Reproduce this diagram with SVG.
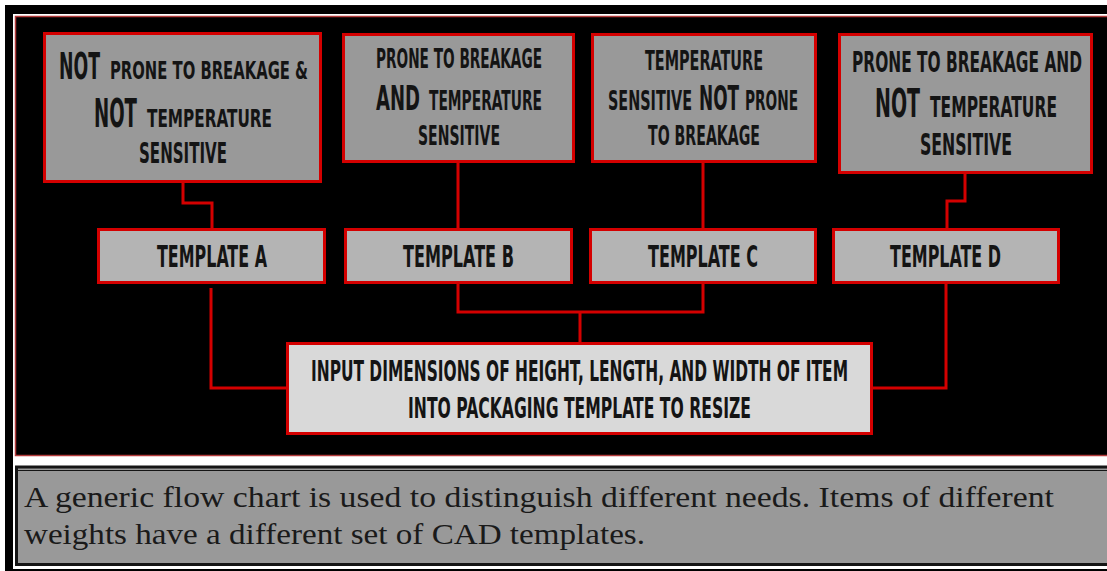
<svg xmlns="http://www.w3.org/2000/svg" width="1107" height="571" viewBox="0 0 1107 571">
  <style>
    .hd { font-family: "Liberation Sans Narrow", "DejaVu Sans Condensed", "Liberation Sans", sans-serif; font-weight: bold; fill: #141414; }
    .cap { font-family: "Liberation Serif", "DejaVu Serif", serif; font-size: 30px; fill: #1a1a1a; }
    .box { stroke: #d40000; stroke-width: 3; }
    .top { fill: #999999; }
    .tpl { fill: #b4b4b4; }
    .inp { fill: #d9d9d9; }
    .wire { fill: none; stroke: #d40000; stroke-width: 3; stroke-linejoin: miter; }
  </style>

  <!-- page frame -->
  <rect x="0" y="0" width="1107" height="571" fill="#ffffff"/>
  <rect x="5" y="5" width="1102" height="566" fill="#000000"/>
  <rect x="13" y="14" width="1094" height="555" fill="#ffffff"/>

  <!-- chart panel -->
  <rect x="15.5" y="16.5" width="1100" height="439" fill="#000000" stroke="#b23a3a" stroke-width="1.5"/>

  <!-- connectors -->
  <g id="connectors">
    <path class="wire" d="M183,183 V203 H212 V228"/>
    <path class="wire" d="M458,163 V228"/>
    <path class="wire" d="M703,163 V228"/>
    <path class="wire" d="M965,174 V201 H947 V228"/>
    <path class="wire" d="M211,288 V388 H286"/>
    <path class="wire" d="M458,284 V312 H703 V284"/>
    <path class="wire" d="M580,312 V342"/>
    <path class="wire" d="M946,284 V388 H873"/>
  </g>

  <!-- category boxes (labels are tall condensed caps: narrow glyphs stretched vertically) -->
  <g id="cat-1">
    <rect class="box top" x="44.5" y="33.5" width="276" height="148"/>
    <text class="hd" transform="translate(59,79) scale(1,1.6)" font-size="23" textLength="41" lengthAdjust="spacingAndGlyphs">NOT</text>
    <text class="hd" transform="translate(110,79) scale(1,1.6)" font-size="15" textLength="198" lengthAdjust="spacingAndGlyphs">PRONE TO BREAKAGE &amp;</text>
    <text class="hd" transform="translate(94,127) scale(1,1.6)" font-size="24" textLength="43" lengthAdjust="spacingAndGlyphs">NOT</text>
    <text class="hd" transform="translate(147,127) scale(1,1.6)" font-size="16" textLength="125" lengthAdjust="spacingAndGlyphs">TEMPERATURE</text>
    <text class="hd" transform="translate(139,163) scale(1,1.6)" font-size="18" textLength="88" lengthAdjust="spacingAndGlyphs">SENSITIVE</text>
  </g>

  <g id="cat-2">
    <rect class="box top" x="343.5" y="34.5" width="230" height="127"/>
    <text class="hd" transform="translate(376,68) scale(1,1.6)" font-size="16.3" textLength="166" lengthAdjust="spacingAndGlyphs">PRONE TO BREAKAGE</text>
    <text class="hd" transform="translate(376,110) scale(1,1.6)" font-size="21.4" textLength="44" lengthAdjust="spacingAndGlyphs">AND</text>
    <text class="hd" transform="translate(429,110) scale(1,1.6)" font-size="16.3" textLength="113" lengthAdjust="spacingAndGlyphs">TEMPERATURE</text>
    <text class="hd" transform="translate(418,145) scale(1,1.6)" font-size="16.3" textLength="82" lengthAdjust="spacingAndGlyphs">SENSITIVE</text>
  </g>

  <g id="cat-3">
    <rect class="box top" x="592.5" y="34.5" width="223" height="127"/>
    <text class="hd" transform="translate(645,70) scale(1,1.6)" font-size="16.3" textLength="118" lengthAdjust="spacingAndGlyphs">TEMPERATURE</text>
    <text class="hd" transform="translate(608,110) scale(1,1.6)" font-size="16.3" textLength="84" lengthAdjust="spacingAndGlyphs">SENSITIVE</text>
    <text class="hd" transform="translate(699,110) scale(1,1.6)" font-size="20.6" textLength="40" lengthAdjust="spacingAndGlyphs">NOT</text>
    <text class="hd" transform="translate(745,110) scale(1,1.6)" font-size="16.3" textLength="53" lengthAdjust="spacingAndGlyphs">PRONE</text>
    <text class="hd" transform="translate(648,145) scale(1,1.6)" font-size="16.3" textLength="112" lengthAdjust="spacingAndGlyphs">TO BREAKAGE</text>
  </g>

  <g id="cat-4">
    <rect class="box top" x="839.5" y="34.5" width="252" height="138"/>
    <text class="hd" transform="translate(852,72) scale(1,1.6)" font-size="18" textLength="230" lengthAdjust="spacingAndGlyphs">PRONE TO BREAKAGE AND</text>
    <text class="hd" transform="translate(875,117) scale(1,1.6)" font-size="24.9" textLength="45" lengthAdjust="spacingAndGlyphs">NOT</text>
    <text class="hd" transform="translate(930,117) scale(1,1.6)" font-size="18" textLength="127" lengthAdjust="spacingAndGlyphs">TEMPERATURE</text>
    <text class="hd" transform="translate(920,155) scale(1,1.6)" font-size="18.9" textLength="92" lengthAdjust="spacingAndGlyphs">SENSITIVE</text>
  </g>

  <!-- templates -->
  <g id="template-a">
    <rect class="box tpl" x="98.5" y="229.5" width="226" height="53"/>
    <text class="hd" transform="translate(157,267) scale(1,1.6)" font-size="18.9" textLength="110" lengthAdjust="spacingAndGlyphs">TEMPLATE A</text>
  </g>
  <g id="template-b">
    <rect class="box tpl" x="345.5" y="229.5" width="226" height="53"/>
    <text class="hd" transform="translate(403,267) scale(1,1.6)" font-size="18.9" textLength="111" lengthAdjust="spacingAndGlyphs">TEMPLATE B</text>
  </g>
  <g id="template-c">
    <rect class="box tpl" x="590.5" y="229.5" width="225" height="53"/>
    <text class="hd" transform="translate(648,267) scale(1,1.6)" font-size="18.9" textLength="110" lengthAdjust="spacingAndGlyphs">TEMPLATE C</text>
  </g>
  <g id="template-d">
    <rect class="box tpl" x="833.5" y="229.5" width="225" height="53"/>
    <text class="hd" transform="translate(890,267) scale(1,1.6)" font-size="18.9" textLength="111" lengthAdjust="spacingAndGlyphs">TEMPLATE D</text>
  </g>

  <!-- resize step -->
  <g id="input-step">
    <rect class="box inp" x="287.5" y="343.5" width="584" height="90"/>
    <text class="hd" transform="translate(311,381) scale(1,1.6)" font-size="18" textLength="537" lengthAdjust="spacingAndGlyphs">INPUT DIMENSIONS OF HEIGHT, LENGTH, AND WIDTH OF ITEM</text>
    <text class="hd" transform="translate(408,418) scale(1,1.6)" font-size="18" textLength="343" lengthAdjust="spacingAndGlyphs">INTO PACKAGING TEMPLATE TO RESIZE</text>
  </g>

  <!-- caption -->
  <g id="caption">
    <rect x="16.5" y="467" width="1100" height="97.5" fill="#999999" stroke="#151515" stroke-width="3"/>
    <line x1="18" y1="470.5" x2="1107" y2="470.5" stroke="#151515" stroke-width="1"/>
    <text class="cap" x="24" y="507" textLength="1030" lengthAdjust="spacingAndGlyphs">A generic flow chart is used to distinguish different needs. Items of different</text>
    <text class="cap" x="24" y="544" textLength="621" lengthAdjust="spacingAndGlyphs">weights have a different set of CAD templates.</text>
  </g>
</svg>
